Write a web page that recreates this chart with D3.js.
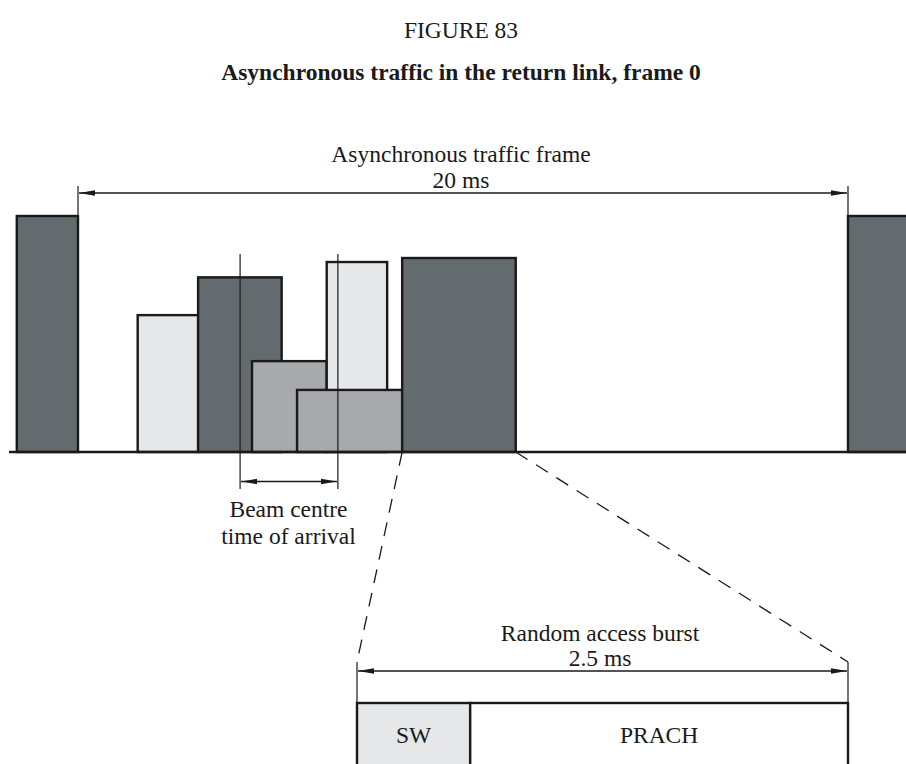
<!DOCTYPE html>
<html>
<head>
<meta charset="utf-8">
<script src="https://cdn.jsdelivr.net/npm/d3@7"></script>
<style>
  html, body { margin: 0; padding: 0; background: #fff; }
  svg { display: block; }
  text { font-family: "Liberation Serif", "Times New Roman", serif; fill: #1a1a1a; }
</style>
</head>
<body>
<div id="chart"></div>
<script>
// ---- data ----
// bursts in the 20 ms asynchronous frame (time in ms, relative level 0..10)
const burstNames  = ["prev", "b1", "b2", "b3", "b5", "b4", "b6", "next"];
const burstStart  = [-1.59, 1.55, 3.12, 4.52, 6.46, 5.69, 8.42, 20.0];
const burstEnd    = [ 0.00, 3.12, 5.29, 6.46, 8.03, 8.42, 11.37, 21.6];
const burstLevel  = [10.0, 5.8, 7.4, 3.85, 8.05, 2.63, 8.22, 10.0];
const burstShade  = ["dark", "light", "dark", "mid", "light", "mid", "dark", "dark"];
const beamMarks   = [4.21, 6.75];           // beam centre time-of-arrival span (ms)
const frameSpan   = [0, 20];                // async traffic frame (ms)
const burstLabel  = ["Random access burst", "2.5 ms"];
const frameLabel  = ["Asynchronous traffic frame", "20 ms"];
const beamLabel   = ["Beam centre", "time of arrival"];
const fieldNames  = ["SW", "PRACH"];
const fieldShare  = [0, 0.2305, 1];         // fractions of 2.5 ms burst
const zoomBurst   = 6;                      // index of burst expanded below

const W = 906, H = 764;
const shadeColor = { dark: "#646b6e", light: "#e6e7e9", mid: "#a7a9ad" };
const ink = "#1a1a1a";

const x = d3.scaleLinear().domain([0, 20]).range([78, 848]);
const y = d3.scaleLinear().domain([0, 10]).range([452, 216]);
const xb = d3.scaleLinear().domain([0, 1]).range([357, 848]);   // expanded burst
const boxTop = 703;

const svg = d3.select("#chart").append("svg")
  .attr("width", W).attr("height", H);

const defs = svg.append("defs");
defs.append("marker").attr("id", "ah")
  .attr("viewBox", "0 0 16 8").attr("refX", 16).attr("refY", 4)
  .attr("markerWidth", 16).attr("markerHeight", 8)
  .attr("markerUnits", "userSpaceOnUse").attr("orient", "auto-start-reverse")
  .append("path").attr("d", "M0,1.2 L16,4 L0,6.8 Z").attr("fill", ink);

// titles
svg.append("text").attr("x", 461).attr("y", 38).attr("text-anchor", "middle")
  .attr("font-size", 23.5).text("FIGURE 83");
svg.append("text").attr("x", 461).attr("y", 80).attr("text-anchor", "middle")
  .attr("font-size", 23.5).attr("font-weight", "bold")
  .text("Asynchronous traffic in the return link, frame 0");

// frame dimension
svg.append("text").attr("x", 461).attr("y", 162).attr("text-anchor", "middle")
  .attr("font-size", 23.5).text(frameLabel[0]);
svg.append("text").attr("x", 461).attr("y", 188).attr("text-anchor", "middle")
  .attr("font-size", 23.5).text(frameLabel[1]);
frameSpan.forEach(t => {
  svg.append("line").attr("x1", x(t)).attr("x2", x(t)).attr("y1", 186).attr("y2", 216)
    .attr("stroke", ink).attr("stroke-width", 1.2);
});
svg.append("line").attr("x1", x(frameSpan[0]) + 1).attr("x2", x(frameSpan[1]) - 1)
  .attr("y1", 193).attr("y2", 193).attr("stroke", ink).attr("stroke-width", 1.5)
  .attr("marker-start", "url(#ah)").attr("marker-end", "url(#ah)");

// dashed zoom lines
svg.append("line").attr("x1", x(burstStart[zoomBurst])).attr("y1", 452)
  .attr("x2", xb(0)).attr("y2", 662)
  .attr("stroke", ink).attr("stroke-width", 1.3).attr("stroke-dasharray", "14,10");
svg.append("line").attr("x1", x(burstEnd[zoomBurst])).attr("y1", 452)
  .attr("x2", xb(1)).attr("y2", 662)
  .attr("stroke", ink).attr("stroke-width", 1.3).attr("stroke-dasharray", "14,10");

// bursts
svg.append("g").selectAll("rect").data(burstNames).join("rect")
  .attr("x", (d, i) => x(burstStart[i]))
  .attr("y", (d, i) => y(burstLevel[i]))
  .attr("width", (d, i) => x(burstEnd[i]) - x(burstStart[i]))
  .attr("height", (d, i) => y(0) - y(burstLevel[i]))
  .attr("fill", (d, i) => shadeColor[burstShade[i]])
  .attr("stroke", ink).attr("stroke-width", 2.4);

// baseline
svg.append("line").attr("x1", 9).attr("x2", W).attr("y1", y(0)).attr("y2", y(0))
  .attr("stroke", ink).attr("stroke-width", 2.6);

// beam centre markers
beamMarks.forEach(t => {
  svg.append("line").attr("x1", x(t)).attr("x2", x(t)).attr("y1", 254).attr("y2", 489)
    .attr("stroke", ink).attr("stroke-width", 1.2);
});
svg.append("line").attr("x1", x(beamMarks[0]) + 1).attr("x2", x(beamMarks[1]) - 1)
  .attr("y1", 481.5).attr("y2", 481.5).attr("stroke", ink).attr("stroke-width", 1.5)
  .attr("marker-start", "url(#ah)").attr("marker-end", "url(#ah)");
svg.append("text").attr("x", 288.5).attr("y", 517).attr("text-anchor", "middle")
  .attr("font-size", 23.5).text(beamLabel[0]);
svg.append("text").attr("x", 288.5).attr("y", 544).attr("text-anchor", "middle")
  .attr("font-size", 23.5).text(beamLabel[1]);

// expanded random access burst
svg.append("text").attr("x", 600).attr("y", 641).attr("text-anchor", "middle")
  .attr("font-size", 23.5).text(burstLabel[0]);
svg.append("text").attr("x", 600).attr("y", 666).attr("text-anchor", "middle")
  .attr("font-size", 23.5).text(burstLabel[1]);
[0, 1].forEach(f => {
  svg.append("line").attr("x1", xb(f)).attr("x2", xb(f)).attr("y1", 662).attr("y2", boxTop)
    .attr("stroke", ink).attr("stroke-width", 1.2);
});
svg.append("line").attr("x1", xb(0) + 1).attr("x2", xb(1) - 1)
  .attr("y1", 671).attr("y2", 671).attr("stroke", ink).attr("stroke-width", 1.5)
  .attr("marker-start", "url(#ah)").attr("marker-end", "url(#ah)");

const fieldFill = ["#e6e7e9", "#ffffff"];
fieldNames.forEach((n, i) => {
  const x0 = xb(fieldShare[i]), x1 = xb(fieldShare[i + 1]);
  svg.append("rect").attr("x", x0).attr("y", boxTop).attr("width", x1 - x0)
    .attr("height", 100).attr("fill", fieldFill[i])
    .attr("stroke", ink).attr("stroke-width", 2.4);
  svg.append("text").attr("x", (x0 + x1) / 2).attr("y", 743).attr("text-anchor", "middle")
    .attr("font-size", 23.5).text(n);
});
</script>
</body>
</html>
